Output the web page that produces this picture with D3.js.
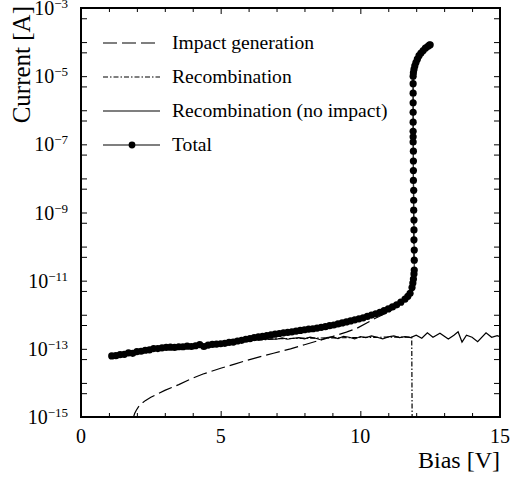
<!DOCTYPE html>
<html>
<head>
<meta charset="utf-8">
<script src="https://cdn.jsdelivr.net/npm/d3@7"></script>
<style>
  body { margin: 0; background: #fff; }
  text { font-family: "Liberation Serif", "Times New Roman", serif; fill: #000; }
</style>
</head>
<body>
<div id="chart"></div>
<script>
'use strict';

// Values (bias in V, current in A)
var totalBias = [1.1, 1.25, 1.4, 1.55, 1.7, 1.85, 2.0, 2.15, 2.3, 2.45, 2.6, 2.75, 2.9, 3.05, 3.2, 3.35,
  3.5, 3.65, 3.8, 3.95, 4.1, 4.25, 4.4, 4.55, 4.7, 4.85, 5.0, 5.15, 5.3, 5.45, 5.6, 5.75, 5.9, 6.05,
  6.2, 6.35, 6.5, 6.65, 6.8, 6.95, 7.1, 7.25, 7.4, 7.55, 7.7, 7.85, 8.0, 8.15, 8.3, 8.45, 8.6, 8.75,
  8.9, 9.05, 9.2, 9.35, 9.5, 9.65, 9.8, 9.95, 10.1, 10.25, 10.4, 10.55, 10.7, 10.85, 11.0, 11.15,
  11.3, 11.45, 11.6, 11.7, 11.78, 11.85, 11.88, 11.90, 11.92, 11.93, 11.93, 11.93, 11.92, 11.92,
  11.92, 11.91, 11.91, 11.91, 11.90, 11.90, 11.90, 11.90, 11.89, 11.89, 11.89, 11.89, 11.89, 11.89,
  11.89, 11.89, 11.89, 11.90, 11.92, 11.95, 11.99, 12.04, 12.10, 12.17, 12.25, 12.33, 12.41, 12.47, 12.50];
var totalCurrent = [6.2e-14, 6.3e-14, 6.8e-14, 6.9e-14, 7.6e-14, 7.4e-14, 8.3e-14, 8.5e-14, 9.1e-14,
  9.3e-14, 1.02e-13, 1.02e-13, 1.07e-13, 1.10e-13, 1.12e-13, 1.10e-13, 1.15e-13, 1.15e-13, 1.20e-13,
  1.17e-13, 1.23e-13, 1.32e-13, 1.17e-13, 1.29e-13, 1.35e-13, 1.38e-13, 1.41e-13, 1.45e-13, 1.55e-13,
  1.58e-13, 1.70e-13, 1.78e-13, 1.91e-13, 2.0e-13, 2.14e-13, 2.24e-13, 2.34e-13, 2.45e-13, 2.57e-13,
  2.69e-13, 2.82e-13, 2.95e-13, 3.02e-13, 3.16e-13, 3.31e-13, 3.47e-13, 3.63e-13, 3.80e-13, 3.89e-13,
  4.07e-13, 4.27e-13, 4.47e-13, 4.79e-13, 5.01e-13, 5.37e-13, 5.75e-13, 6.17e-13, 6.61e-13, 7.08e-13,
  7.59e-13, 8.13e-13, 8.91e-13, 9.77e-13, 1.07e-12, 1.17e-12, 1.32e-12, 1.48e-12, 1.70e-12, 1.95e-12,
  2.34e-12, 2.88e-12, 3.47e-12, 4.27e-12, 6.3e-12, 8.5e-12, 1.12e-11, 1.58e-11, 2.04e-11, 3.98e-11,
  7.94e-11, 1.58e-10, 3.09e-10, 6.03e-10, 1.17e-9, 2.29e-9, 4.47e-9, 8.71e-9, 1.70e-8, 3.24e-8,
  6.31e-8, 1.17e-7, 1.66e-7, 2.40e-7, 4.47e-7, 8.71e-7, 1.66e-6, 3.16e-6, 6.03e-6, 1.0e-5, 1.26e-5,
  1.58e-5, 2.0e-5, 2.51e-5, 3.16e-5, 3.98e-5, 4.79e-5, 5.62e-5, 6.61e-5, 7.41e-5, 8.13e-5, 8.32e-5];

var impactBias = [1.86, 1.92, 1.98, 2.05, 2.15, 2.3, 2.5, 2.75, 3.0, 3.5, 4.0, 4.37, 5.0, 5.5, 5.93,
  6.5, 6.89, 7.5, 8.0, 8.5, 9.0, 9.5, 9.87, 10.5, 11.0, 11.5, 11.8, 11.88, 11.92, 11.90, 11.89,
  12.0, 12.25, 12.5];
var impactCurrent = [8.9e-16, 1.26e-15, 1.58e-15, 1.95e-15, 2.40e-15, 3.02e-15, 3.80e-15, 4.79e-15,
  6.03e-15, 8.91e-15, 1.38e-14, 1.82e-14, 2.69e-14, 3.55e-14, 4.57e-14, 6.17e-14, 7.41e-14, 1.0e-13,
  1.32e-13, 1.74e-13, 2.29e-13, 3.09e-13, 3.98e-13, 7.6e-13, 1.2e-12, 2.19e-12, 4.47e-12, 8.5e-12,
  2.0e-11, 1e-8, 1e-5, 2.51e-5, 5.62e-5, 8.32e-5];

var recombBias = [1.1, 2.0, 3.0, 4.0, 5.0, 6.0, 7.0, 8.0, 9.0, 10.0, 11.0, 11.84, 11.86];
var recombCurrent = [6.0e-14, 8.1e-14, 1.05e-13, 1.2e-13, 1.38e-13, 1.7e-13, 1.98e-13, 2.05e-13,
  2.1e-13, 2.15e-13, 2.2e-13, 2.2e-13, 1e-16];

var noImpactBias = [1.1, 1.5, 2.0, 2.5, 3.0, 3.5, 4.0, 4.5, 5.0, 5.5, 6.0, 6.4, 6.8, 7.0, 7.2, 7.4,
  7.6, 7.8, 8.0, 8.2, 8.4, 8.6, 8.8, 9.0, 9.2, 9.4, 9.6, 9.8, 10.0, 10.2, 10.4, 10.6, 10.8, 11.0,
  11.2, 11.4, 11.6, 11.8, 12.0, 12.2, 12.4, 12.6, 12.85, 13.15, 13.35, 13.5, 13.64, 13.8, 14.0,
  14.2, 14.5, 14.7, 14.9, 15.0];
var noImpactCurrent = [6.0e-14, 6.9e-14, 8.1e-14, 9.1e-14, 1.05e-13, 1.12e-13, 1.20e-13, 1.29e-13,
  1.38e-13, 1.51e-13, 1.70e-13, 1.86e-13, 1.95e-13, 1.91e-13, 2.09e-13, 1.91e-13, 2.04e-13, 2.14e-13,
  1.95e-13, 2.19e-13, 2.04e-13, 1.82e-13, 2.14e-13, 2.24e-13, 2.0e-13, 2.34e-13, 2.19e-13, 1.95e-13,
  2.29e-13, 2.14e-13, 2.40e-13, 2.19e-13, 1.95e-13, 2.24e-13, 2.40e-13, 2.14e-13, 2.29e-13, 2.14e-13,
  2.51e-13, 2.04e-13, 2.95e-13, 2.19e-13, 2.88e-13, 1.95e-13, 2.51e-13, 3.16e-13, 1.58e-13, 2.51e-13,
  2.19e-13, 1.62e-13, 2.95e-13, 2.19e-13, 2.45e-13, 2.29e-13];

var legendLabels = ['Impact generation', 'Recombination', 'Recombination (no impact)', 'Total'];
var xTickLabels = [0, 5, 10, 15];
var yTickExponents = [-15, -13, -11, -9, -7, -5, -3];

function zip(xs, ys) {
  return xs.map(function(x, i) { return {bias: x, current: ys[i]}; });
}

var width = 511, height = 485;
var margin = {top: 8, right: 11, bottom: 68, left: 81};
var innerWidth = width - margin.left - margin.right;
var innerHeight = height - margin.top - margin.bottom;

var svg = d3.select('#chart').append('svg')
  .attr('width', width)
  .attr('height', height);

var chart = svg.append('g')
  .attr('transform', 'translate(' + margin.left + ',' + margin.top + ')');

var x = d3.scaleLinear().domain([0, 15]).range([0, innerWidth]);
var y = d3.scaleLog().domain([1e-15, 1e-3]).range([innerHeight, 0]);

// minor y ticks at 1 and 5 per decade
var yTicks = [];
for (var e = -15; e <= -3; e++) {
  yTicks.push(Math.pow(10, e));
  if (e < -3) yTicks.push(5 * Math.pow(10, e));
}
var xMinor = d3.range(0, 16);

function tickAxis(axis, transform) {
  var g = chart.append('g').attr('transform', transform || null).call(axis);
  g.select('.domain').remove();
  g.selectAll('line').attr('stroke', '#000').attr('stroke-width', 1);
  g.selectAll('text').remove();
  return g;
}

tickAxis(d3.axisLeft(y).tickValues(yTicks).tickSize(-6));
tickAxis(d3.axisRight(y).tickValues(yTicks).tickSize(-6), 'translate(' + innerWidth + ',0)');
tickAxis(d3.axisBottom(x).tickValues(xMinor.filter(function(d) { return d % 5; })).tickSize(-4),
  'translate(0,' + innerHeight + ')');
tickAxis(d3.axisBottom(x).tickValues(xTickLabels).tickSize(-6), 'translate(0,' + innerHeight + ')');
tickAxis(d3.axisTop(x).tickValues(xMinor.filter(function(d) { return d % 5; })).tickSize(-4));
tickAxis(d3.axisTop(x).tickValues(xTickLabels).tickSize(-6));

// tick labels
chart.selectAll('text.xlabel')
  .data(xTickLabels)
  .enter().append('text')
  .attr('class', 'xlabel')
  .attr('x', function(d) { return x(d); })
  .attr('y', innerHeight + 26)
  .attr('text-anchor', 'middle')
  .style('font-size', '20px')
  .text(function(d) { return d; });

var ylab = chart.selectAll('text.ylabel')
  .data(yTickExponents)
  .enter().append('text')
  .attr('class', 'ylabel')
  .attr('x', -13)
  .attr('y', function(d) { return y(Math.pow(10, d)) + 7; })
  .attr('text-anchor', 'end')
  .style('font-size', '20px');
ylab.append('tspan').text('10');
ylab.append('tspan')
  .attr('dy', -7)
  .style('font-size', '13px')
  .text(function(d) { return '\u2212' + (-d); });

// axis titles
svg.append('text')
  .attr('transform', 'translate(30,6) rotate(-90)')
  .attr('text-anchor', 'end')
  .style('font-size', '25px')
  .text('Current [A]');

svg.append('text')
  .attr('x', 500)
  .attr('y', 468)
  .attr('text-anchor', 'end')
  .style('font-size', '24px')
  .text('Bias [V]');

// plot curves
chart.append('clipPath').attr('id', 'clip')
  .append('rect').attr('width', innerWidth).attr('height', innerHeight);

var plot = chart.append('g').attr('clip-path', 'url(#clip)');

var line = d3.line()
  .x(function(d) { return x(d.bias); })
  .y(function(d) { return y(d.current); });

plot.append('path')
  .datum(zip(noImpactBias, noImpactCurrent))
  .attr('fill', 'none')
  .attr('stroke', '#000')
  .attr('stroke-width', 1.2)
  .attr('d', line);

plot.append('path')
  .datum(zip(recombBias, recombCurrent))
  .attr('fill', 'none')
  .attr('stroke', '#000')
  .attr('stroke-width', 1.2)
  .attr('stroke-dasharray', '5,2,1.5,2')
  .attr('d', line);

plot.append('path')
  .datum(zip(impactBias, impactCurrent))
  .attr('fill', 'none')
  .attr('stroke', '#000')
  .attr('stroke-width', 1.2)
  .attr('stroke-dasharray', '14,5')
  .attr('d', line);

var total = zip(totalBias, totalCurrent);
plot.append('path')
  .datum(total)
  .attr('fill', 'none')
  .attr('stroke', '#333')
  .attr('stroke-width', 1.2)
  .attr('d', line);

plot.selectAll('circle.total')
  .data(total)
  .enter().append('circle')
  .attr('class', 'total')
  .attr('cx', function(d) { return x(d.bias); })
  .attr('cy', function(d) { return y(d.current); })
  .attr('r', 3.6)
  .attr('fill', '#000');

// frame
chart.append('rect')
  .attr('width', innerWidth)
  .attr('height', innerHeight)
  .attr('fill', 'none')
  .attr('stroke', '#000')
  .attr('stroke-width', 2);

// legend
var dashes = ['14,5', '5,2,1.5,2', null, null];
var legend = svg.selectAll('g.legend')
  .data(legendLabels)
  .enter().append('g')
  .attr('class', 'legend')
  .attr('transform', function(d, i) { return 'translate(103,' + (43 + i * 34) + ')'; });

legend.append('line')
  .attr('x1', 0).attr('x2', 57)
  .attr('stroke', function(d, i) { return i === 3 ? '#555' : '#000'; })
  .attr('stroke-width', function(d, i) { return i === 3 ? 1.6 : 1.2; })
  .attr('stroke-dasharray', function(d, i) { return dashes[i]; });

legend.filter(function(d, i) { return i === 3; })
  .append('circle')
  .attr('cx', 29).attr('r', 3.4).attr('fill', '#000');

legend.append('text')
  .attr('x', 69)
  .attr('y', 6)
  .style('font-size', '19.6px')
  .text(function(d) { return d; });
</script>
</body>
</html>
